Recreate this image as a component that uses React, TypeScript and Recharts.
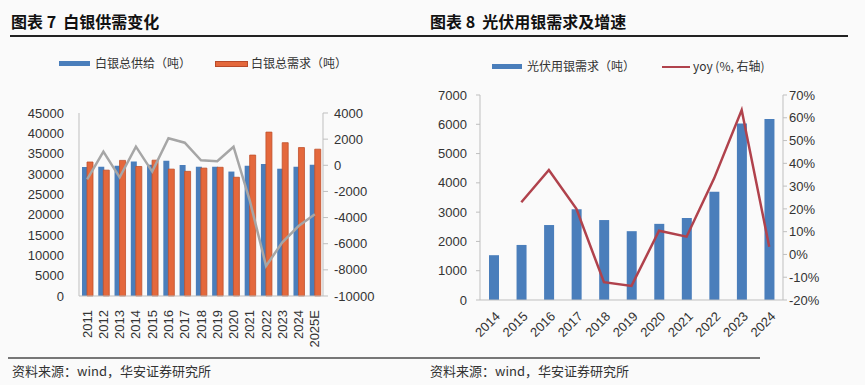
import { ComposedChart, Bar, Line, XAxis, YAxis } from 'recharts';

const years7 = ['2011', '2012', '2013', '2014', '2015', '2016', '2017', '2018', '2019', '2020', '2021', '2022', '2023', '2024', '2025E'];
const supply7 = [31700, 31800, 32000, 33100, 32300, 33250, 32200, 31800, 31800, 30600, 32050, 32450, 31300, 31800, 32250];
const demand7 = [32950, 30950, 33350, 31850, 33400, 31200, 30650, 31450, 31650, 29200, 34650, 40300, 37700, 36500, 36100];
const gap7 = [-1080, 1050, -920, 1430, -480, 2070, 1730, 380, 310, 1420, -2700, -7700, -5900, -4650, -3750];

const years8 = ['2014', '2015', '2016', '2017', '2018', '2019', '2020', '2021', '2022', '2023', '2024'];
const pvDemand = [1530, 1880, 2560, 3100, 2730, 2350, 2600, 2800, 3700, 6030, 6180];
const pvYoy = [null, 22.9, 37.1, 20, -12.2, -13.8, 10.4, 7.8, 33.4, 63.4, 3.4];

const leftTicks = [0, 5000, 10000, 15000, 20000, 25000, 30000, 35000, 40000, 45000];
const rightTicks = [-10000, -8000, -6000, -4000, -2000, 0, 2000, 4000];
const pvTicks = [0, 1000, 2000, 3000, 4000, 5000, 6000, 7000];
const yoyTicks = [-20, -10, 0, 10, 20, 30, 40, 50, 60, 70];

const data7 = years7.map((y, i) => ({ year: y, supply: supply7[i], demand: demand7[i], gap: gap7[i] }));
const data8 = years8.map((y, i) => ({ year: y, demand: pvDemand[i], yoy: pvYoy[i] }));

const NUM_FONT = '"Liberation Sans", Arial, sans-serif';
const CJK_FONT = '"Noto Sans CJK SC", sans-serif';
const tickStyle = { fill: '#333', fontSize: 13, fontFamily: NUM_FONT };
const axisGray = '#bfbfbf';

const BLUE = '#4a7ebb';
const ORANGE = '#e4683c';
const GRAY_LINE = '#a6a6a6';
const RED_LINE = '#b0424c';

function VertTick({ x, y, payload }: any) {
  return (
    <g transform={`translate(${x},${y + 6}) rotate(-90)`}>
      <text x={0} y={0} textAnchor="end" dominantBaseline="central" style={tickStyle}>
        {payload.value}
      </text>
    </g>
  );
}

function SlantTick({ x, y, payload }: any) {
  return (
    <g transform={`translate(${x + 4},${y + 6}) rotate(-45)`}>
      <text x={0} y={0} textAnchor="end" dominantBaseline="central" style={tickStyle}>
        {payload.value}
      </text>
    </g>
  );
}

const legendText = { position: 'absolute' as const, fontSize: 12, fontFamily: CJK_FONT, color: '#333', lineHeight: '14px' };

export default function App() {
  return (
    <div style={{ position: 'absolute', left: 0, top: 0, width: 865, height: 385, background: '#fafafa', overflow: 'hidden' }}>
      {/* titles */}
      <div style={{ position: 'absolute', left: 11, top: 9, fontSize: 16, fontWeight: 'bold', fontFamily: CJK_FONT, color: '#111' }}>
        图表 7&nbsp; 白银供需变化
      </div>
      <div style={{ position: 'absolute', left: 430, top: 9, fontSize: 16, fontWeight: 'bold', fontFamily: CJK_FONT, color: '#111' }}>
        图表 8&nbsp; 光伏用银需求及增速
      </div>
      <div style={{ position: 'absolute', left: 10, top: 35, width: 838, height: 1.5, background: '#222' }} />

      {/* legend left */}
      <div style={{ position: 'absolute', left: 59, top: 61, width: 31, height: 5, background: BLUE }} />
      <div style={{ ...legendText, left: 95, top: 56 }}>白银总供给（吨）</div>
      <div style={{ position: 'absolute', left: 215, top: 61, width: 31, height: 4, background: ORANGE, border: '1px solid #b84a2a' }} />
      <div style={{ ...legendText, left: 251, top: 56 }}>白银总需求（吨）</div>

      {/* legend right */}
      <div style={{ position: 'absolute', left: 492, top: 64, width: 30, height: 5, background: BLUE }} />
      <div style={{ ...legendText, left: 527, top: 59 }}>光伏用银需求（吨）</div>
      <div style={{ position: 'absolute', left: 662, top: 66, width: 28, height: 2, background: RED_LINE }} />
      <div style={{ ...legendText, left: 693, top: 59 }}>yoy (%, 右轴)</div>

      <div style={{ position: 'absolute', left: 0, top: 0 }}>
        <ComposedChart width={430} height={355} data={data7} margin={{ top: 113, right: 0, bottom: 0, left: 0 }} barGap={-1}>
          <XAxis dataKey="year" interval={0} tick={<VertTick />} tickLine={false} axisLine={{ stroke: axisGray }} height={59} />
          <YAxis yAxisId="left" domain={[0, 45000]} ticks={leftTicks} width={79} tick={tickStyle} tickLine={false} tickSize={6} tickMargin={9} axisLine={{ stroke: axisGray }} interval={0} />
          <YAxis yAxisId="right" orientation="right" domain={[-10000, 4000]} ticks={rightTicks} width={107} tick={tickStyle} tickLine={{ stroke: axisGray }} tickSize={5} tickMargin={6} axisLine={{ stroke: axisGray }} interval={0} />
          <Bar yAxisId="left" dataKey="supply" fill={BLUE} barSize={6} isAnimationActive={false} />
          <Bar yAxisId="left" dataKey="demand" fill={ORANGE} stroke="#c0502c" strokeWidth={0.8} barSize={6} isAnimationActive={false} />
          <Line yAxisId="right" dataKey="gap" stroke={GRAY_LINE} strokeWidth={2.5} dot={false} isAnimationActive={false} />
        </ComposedChart>
      </div>

      <div style={{ position: 'absolute', left: 430, top: 0 }}>
        <ComposedChart width={435} height={355} data={data8} margin={{ top: 95, right: 0, bottom: 0, left: 0 }}>
          <XAxis dataKey="year" interval={0} tick={<SlantTick />} tickLine={false} axisLine={{ stroke: axisGray }} height={55} />
          <YAxis yAxisId="left" domain={[0, 7000]} ticks={pvTicks} width={50} tick={tickStyle} tickLine={{ stroke: axisGray }} tickSize={4} tickMargin={9} axisLine={{ stroke: axisGray }} interval={0} />
          <YAxis yAxisId="right" orientation="right" domain={[-20, 70]} ticks={yoyTicks} width={82} tick={tickStyle} tickFormatter={(v: number) => `${v}%`} tickLine={{ stroke: axisGray }} tickSize={4} tickMargin={2} axisLine={{ stroke: axisGray }} interval={0} />
          <Bar yAxisId="left" dataKey="demand" fill={BLUE} barSize={10} isAnimationActive={false} />
          <Line yAxisId="right" dataKey="yoy" stroke={RED_LINE} strokeWidth={2.5} dot={false} isAnimationActive={false} />
        </ComposedChart>
      </div>

      {/* footer */}
      <div style={{ position: 'absolute', left: 8, top: 357, width: 752, height: 1.5, background: '#777' }} />
      <div style={{ position: 'absolute', left: 12, top: 361, fontSize: 13, fontFamily: CJK_FONT, color: '#333' }}>
        资料来源：wind，华安证券研究所
      </div>
      <div style={{ position: 'absolute', left: 430, top: 361, fontSize: 13, fontFamily: CJK_FONT, color: '#333' }}>
        资料来源：wind，华安证券研究所
      </div>
    </div>
  );
}
